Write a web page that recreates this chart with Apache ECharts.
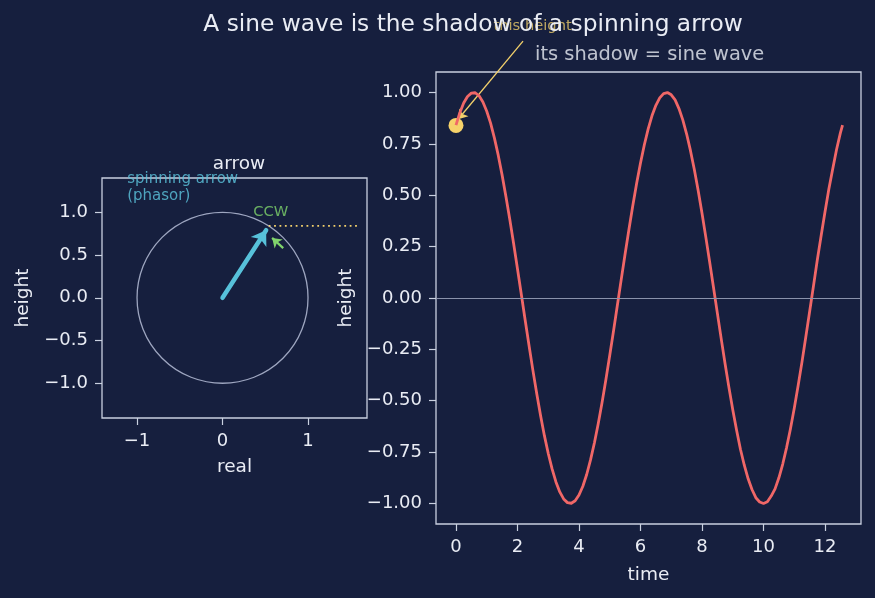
<!DOCTYPE html>
<html>
<head>
<meta charset="utf-8">
<script src="https://cdn.jsdelivr.net/npm/echarts@6/dist/echarts.min.js"></script>
<style>
  html, body { margin: 0; padding: 0; background: #161f3e; }
  #main { width: 875px; height: 598px; }
</style>
</head>
<body>
<div id="main"></div>
<script>
// 时间轴 (0 .. 4π)
var timeValues = [
  0, 0.125, 0.25, 0.375, 0.5, 0.625, 0.75, 0.875, 1, 1.125, 1.25, 1.375, 1.5, 1.625, 1.75, 1.875,
  2, 2.125, 2.25, 2.375, 2.5, 2.625, 2.75, 2.875, 3, 3.125, 3.25, 3.375, 3.5, 3.625, 3.75, 3.875,
  4, 4.125, 4.25, 4.375, 4.5, 4.625, 4.75, 4.875, 5, 5.125, 5.25, 5.375, 5.5, 5.625, 5.75, 5.875,
  6, 6.125, 6.25, 6.375, 6.5, 6.625, 6.75, 6.875, 7, 7.125, 7.25, 7.375, 7.5, 7.625, 7.75, 7.875,
  8, 8.125, 8.25, 8.375, 8.5, 8.625, 8.75, 8.875, 9, 9.125, 9.25, 9.375, 9.5, 9.625, 9.75, 9.875,
  10, 10.125, 10.25, 10.375, 10.5, 10.625, 10.75, 10.875, 11, 11.125, 11.25, 11.375, 11.5, 11.625, 11.75, 11.875,
  12, 12.125, 12.25, 12.375, 12.5, 12.57]
// 正弦波高度
var heightValues = [
  0.841, 0.902, 0.949, 0.981, 0.997, 0.999, 0.984, 0.954, 0.909, 0.851, 0.778, 0.694, 0.598, 0.493, 0.382, 0.264,
  0.141, 0.017, -0.108, -0.231, -0.351, -0.465, -0.572, -0.67, -0.757, -0.832, -0.895, -0.944, -0.978, -0.996, -0.999, -0.987,
  -0.959, -0.916, -0.859, -0.788, -0.706, -0.612, -0.509, -0.397, -0.279, -0.158, -0.033, 0.092, 0.215, 0.335, 0.45, 0.558,
  0.657, 0.746, 0.823, 0.888, 0.938, 0.974, 0.995, 1.0, 0.989, 0.964, 0.922, 0.867, 0.798, 0.717, 0.625, 0.523,
  0.412, 0.295, 0.174, 0.05, -0.075, -0.199, -0.32, -0.435, -0.544, -0.644, -0.736, -0.814, -0.88, -0.932, -0.972, -0.993,
  -1.0, -0.992, -0.964, -0.929, -0.875, -0.808, -0.728, -0.638, -0.537, -0.427, -0.312, -0.19, -0.066, 0.059, 0.186, 0.304,
  0.42, 0.53, 0.628, 0.723, 0.804, 0.841]
// 圆 (圆心 x, 圆心 y, 半径)
var unitCircle = [[0, 0, 1]]
// 旋转箭头 起点/终点
var phasorArrow = [[0, 0], [0.51, 0.79]]
// 逆时针小箭头
var ccwArrow = [[0.71, 0.58], [0.58, 0.70]]
// 虚线: 箭头尖 -> 右边
var heightLine = [[0.54, 0.84], [1.6, 0.84]]
// 右图的起始点
var startPoint = [[0, 0.84]]
// 注释箭头
var noteArrow = [[2.18, 1.25], [0.07, 0.87]]

// 刻度
var leftXTicks = [-1, 0, 1]
var leftYTicks = [-1, -0.5, 0, 0.5, 1]
var rightXTicks = [0, 2, 4, 6, 8, 10, 12]
var rightYTicks = [-1, -0.75, -0.5, -0.25, 0, 0.25, 0.5, 0.75, 1]

var bg = '#161f3e'
var fg = '#e9ecf4'
var spine = '#c9d0e0'
var font = 'DejaVu Sans'

function minus(s) { return s.replace('-', '\u2212') }

function axisBase(ticks, fmt, name, gap, rotate) {
  return {
    type: 'value',
    name: name,
    nameLocation: 'middle',
    nameGap: gap,
    nameRotate: rotate,
    nameTextStyle: { color: fg, fontSize: 18.5, fontFamily: font },
    splitLine: { show: false },
    axisLine: { show: false, onZero: false },
    axisTick: { show: true, inside: false, length: 7, customValues: ticks, lineStyle: { color: spine, width: 1.2 } },
    axisLabel: { show: true, customValues: ticks, color: fg, fontSize: 18, fontFamily: font, margin: 14, formatter: fmt }
  }
}

var myChart = echarts.init(document.getElementById('main'))

var xl = axisBase(leftXTicks, function (v) { return minus(String(Math.round(v))) }, 'real', 40)
xl.min = -1.41; xl.max = 1.69; xl.gridIndex = 0
var yl = axisBase(leftYTicks, function (v) { return minus(v.toFixed(1)) }, 'height', 69, 90)
yl.min = -1.405; yl.max = 1.4; yl.gridIndex = 0
var xr = axisBase(rightXTicks, function (v) { return String(Math.round(v)) }, 'time', 42)
xr.min = -0.65; xr.max = 13.17; xr.gridIndex = 1
var yr = axisBase(rightYTicks, function (v) { return minus(v.toFixed(2)) }, 'height', 80, 90)
yr.min = -1.1; yr.max = 1.1; yr.gridIndex = 1

var options = {
  backgroundColor: bg,
  animation: false,
  title: [
    { text: 'A sine wave is the shadow of a spinning arrow', left: 468, top: 8, textAlign: 'center',
      textStyle: { color: fg, fontSize: 23.3, fontWeight: 'normal', fontFamily: font } },
    { text: 'arrow', left: 234, top: 150, textAlign: 'center',
      textStyle: { color: fg, fontSize: 18.5, fontWeight: 'normal', fontFamily: font } }
  ],
  grid: [
    { left: 102, top: 178, width: 265, height: 240, show: true, borderColor: spine, borderWidth: 1.3, backgroundColor: 'transparent' },
    { left: 436, top: 72, width: 425, height: 452, show: true, borderColor: spine, borderWidth: 1.3, backgroundColor: 'transparent' }
  ],
  xAxis: [xl, xr],
  yAxis: [yl, yr],
  series: [
    {
      type: 'custom',
      xAxisIndex: 0, yAxisIndex: 0,
      data: unitCircle,
      silent: true,
      renderItem: function (params, api) {
        var c = api.coord([api.value(0), api.value(1)])
        var r = api.size([api.value(2), api.value(2)])[0]
        return { type: 'circle', shape: { cx: c[0], cy: c[1], r: r }, style: { fill: 'none', stroke: '#9ea6c0', lineWidth: 1.3 } }
      }
    },
    {
      type: 'line', xAxisIndex: 0, yAxisIndex: 0, data: heightLine, showSymbol: false, silent: true,
      lineStyle: { color: '#f2d06b', width: 1.8, type: [1.8, 3.6] }
    },
    {
      type: 'lines', coordinateSystem: 'cartesian2d', xAxisIndex: 0, yAxisIndex: 0, silent: true,
      symbol: ['none', 'arrow'], symbolSize: 14,
      lineStyle: { color: '#57c1da', width: 4.5, opacity: 1, curveness: 0, cap: 'round' },
      data: [{ coords: phasorArrow }]
    },
    {
      type: 'lines', coordinateSystem: 'cartesian2d', xAxisIndex: 0, yAxisIndex: 0, silent: true,
      symbol: ['none', 'arrow'], symbolSize: 9,
      lineStyle: { color: '#80d46c', width: 2.2, opacity: 1, curveness: 0 },
      data: [{ coords: ccwArrow }]
    },
    {
      type: 'scatter', xAxisIndex: 0, yAxisIndex: 0, symbolSize: 0, clip: false, silent: true,
      data: [[-1.115, 1.49]],
      label: { show: true, position: [0, 0], align: 'left', verticalAlign: 'top', formatter: 'spinning arrow\n(phasor)',
        color: '#5cc6de', fontSize: 15, lineHeight: 17, fontFamily: font }
    },
    {
      type: 'scatter', xAxisIndex: 0, yAxisIndex: 0, symbolSize: 0, clip: false, silent: true,
      data: [[0.36, 1.0]],
      label: { show: true, position: [0, 0], align: 'left', verticalAlign: 'middle', formatter: 'CCW',
        color: '#80d46c', fontSize: 14.7, fontFamily: font }
    },
    {
      type: 'line', xAxisIndex: 1, yAxisIndex: 1, silent: true,
      data: timeValues.map(function (t, i) { return [t, heightValues[i]] }),
      showSymbol: false,
      lineStyle: { color: '#f06767', width: 2.8, join: 'round' },
      markLine: {
        silent: true, symbol: 'none', label: { show: false },
        lineStyle: { color: '#8a92ab', width: 1.2, type: 'solid' },
        data: [{ yAxis: 0 }]
      }
    },
    {
      type: 'lines', coordinateSystem: 'cartesian2d', xAxisIndex: 1, yAxisIndex: 1, silent: true, clip: false,
      symbol: ['none', 'arrow'], symbolSize: 9,
      lineStyle: { color: '#f2d06b', width: 1.3, opacity: 1, curveness: 0 },
      data: [{ coords: noteArrow }]
    },
    {
      type: 'scatter', xAxisIndex: 1, yAxisIndex: 1, silent: true,
      data: startPoint, symbolSize: 15, itemStyle: { color: '#f6d26a', opacity: 1 }
    },
    {
      type: 'scatter', xAxisIndex: 1, yAxisIndex: 1, symbolSize: 0, clip: false, silent: true,
      data: [[2.49, 1.323]],
      label: { show: true, position: [0, 0], align: 'center', verticalAlign: 'middle', formatter: 'this height',
        color: '#e8c96a', fontSize: 14.7, fontFamily: font }
    },
    {
      type: 'scatter', xAxisIndex: 1, yAxisIndex: 1, symbolSize: 0, clip: false, silent: true,
      data: [[2.57, 1.183]],
      label: { show: true, position: [0, 0], align: 'left', verticalAlign: 'middle', formatter: 'its shadow = sine wave',
        color: fg, fontSize: 19.4, fontFamily: font }
    }
  ]
}

myChart.setOption(options)
</script>
</body>
</html>
